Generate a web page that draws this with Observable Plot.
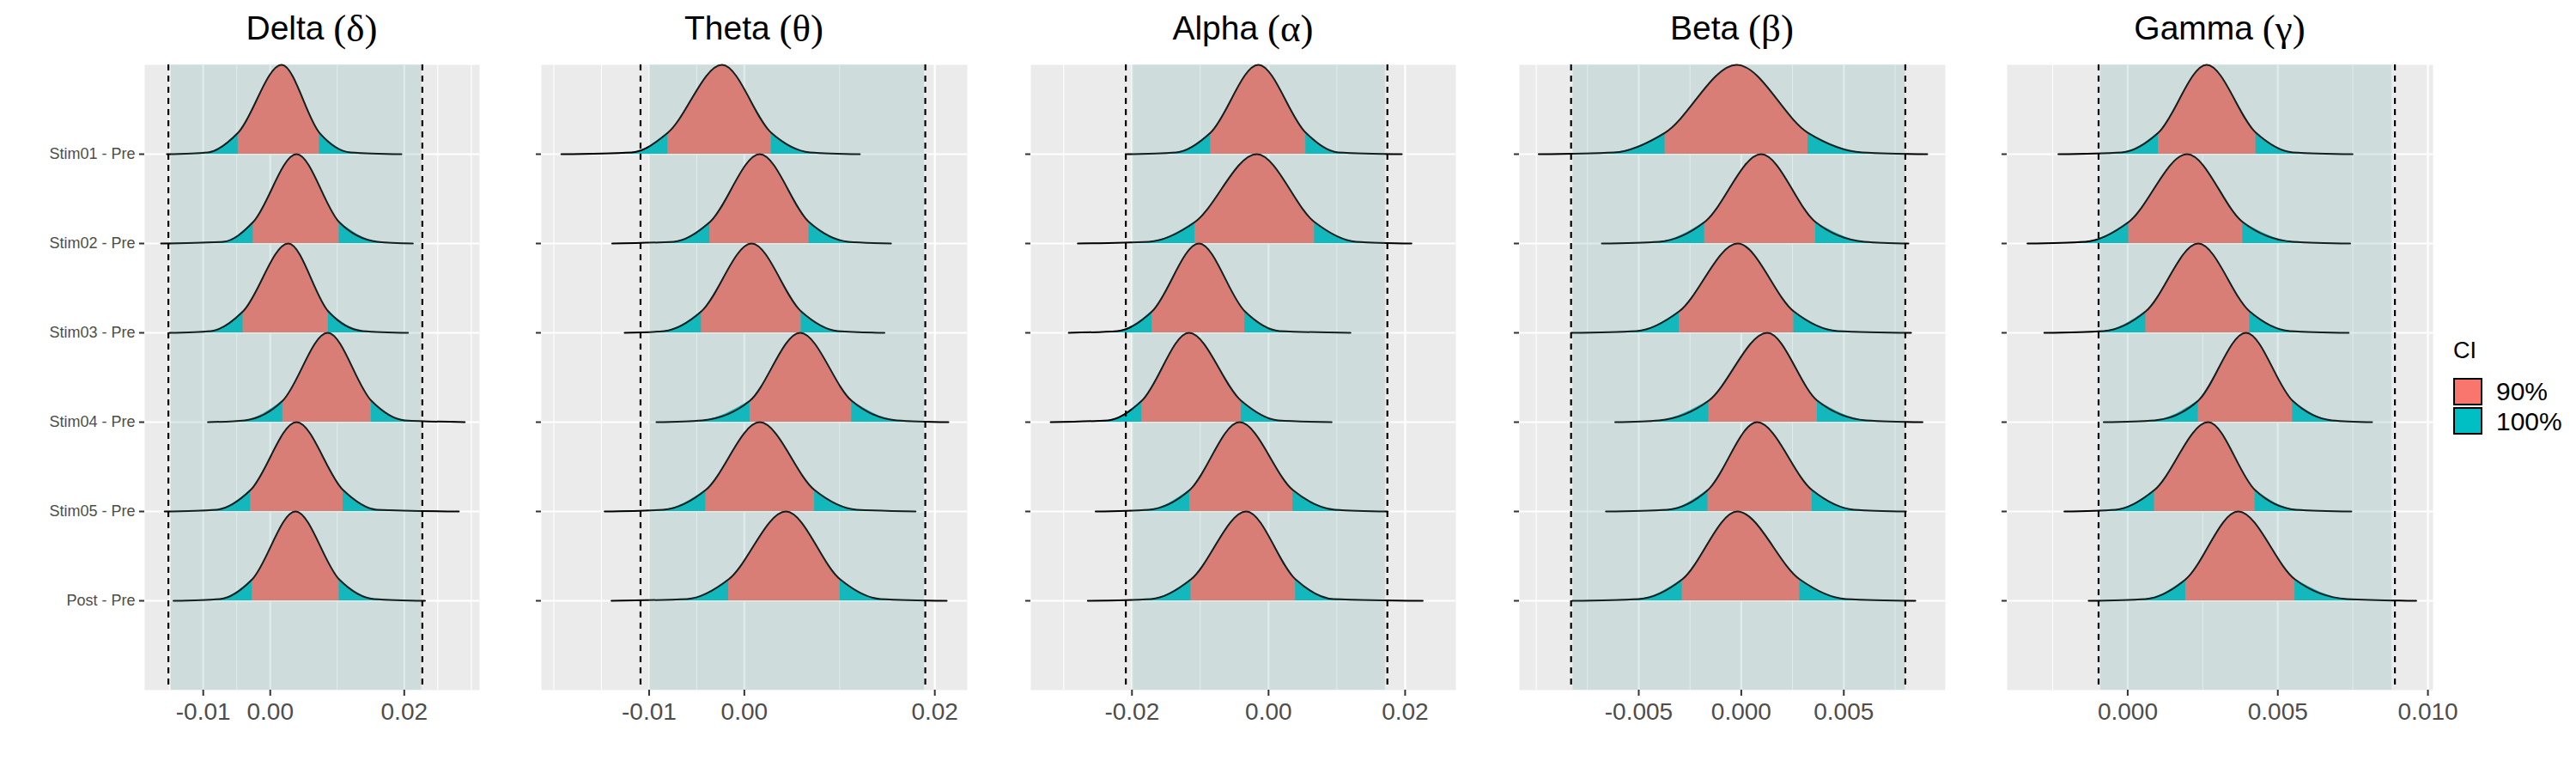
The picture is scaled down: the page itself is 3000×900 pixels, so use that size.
<!DOCTYPE html>
<html>
<head>
<meta charset="utf-8">
<script src="https://cdn.jsdelivr.net/npm/d3@7"></script>
<script src="https://cdn.jsdelivr.net/npm/@observablehq/plot@0.6"></script>
<style>
  body { margin: 0; background: #fff; }
  #chart { position: relative; width: 3000px; height: 900px; overflow: hidden; background: #fff;
           font-family: "Liberation Sans", Arial, sans-serif; }
  .band-title { position: absolute; top: 12px; font-size: 39px; line-height: 39px; color: #000;
                white-space: nowrap; transform: translateX(-50%); }
  .band-title .sym { font-family: "Liberation Serif", "DejaVu Serif", serif; font-size: 45px;
                     position: relative; top: 2px; }
  .legend-title { position: absolute; left: 2857px; top: 395px; font-size: 27px; line-height: 27px; color: #000; }
  .legend-key { position: absolute; left: 2857px; width: 34px; height: 32px; box-sizing: border-box; border: 2px solid #000; }
  .legend-label { position: absolute; left: 2907px; font-size: 30px; line-height: 30px; color: #000; }
</style>
</head>
<body>
<div id="chart"></div>
<script>
// Contrasts, top row first
const contrasts = ["Stim01 - Pre", "Stim02 - Pre", "Stim03 - Pre", "Stim04 - Pre", "Stim05 - Pre", "Post - Pre"];

// Credible-interval classes and their fills
const ciLevels = ["90%", "100%"];
const ciFill = ["#F8766D", "#00BFC4"];

const bandNames = ["Delta", "Theta", "Alpha", "Beta", "Gamma"];
const bandSymbols = ["δ", "θ", "α", "β", "γ"];

// Relative ridge height at each profile point:
// [range start, tail, lower 90% bound, mode, upper 90% bound, tail, range end]
const profileHeights = [0, 0.02, 0.24, 1, 0.24, 0.02, 0];

// Posterior difference profiles (x positions of the profile points), one row per contrast
const deltaProfiles = [
  [-0.01542, -0.0093, -0.0048, 0.0017, 0.00734, 0.0120, 0.01958],
  [-0.0163, -0.0070, -0.00255, 0.00392, 0.01028, 0.0160, 0.02129],
  [-0.01503, -0.0088, -0.00406, 0.00269, 0.00866, 0.0138, 0.02056],
  [-0.0093, -0.0038, 0.00186, 0.00857, 0.01508, 0.0201, 0.02903],
  [-0.01576, -0.0080, -0.00294, 0.00392, 0.01087, 0.0159, 0.02815],
  [-0.01444, -0.0075, -0.00269, 0.00377, 0.01028, 0.0155, 0.0231]
];
const thetaProfiles = [
  [-0.01922, -0.0118, -0.00803, -0.00234, 0.00282, 0.0069, 0.01213],
  [-0.01388, -0.0074, -0.00362, 0.00162, 0.00679, 0.0109, 0.0154],
  [-0.01257, -0.0084, -0.00451, 0.00076, 0.00596, 0.0098, 0.01471],
  [-0.00923, -0.0044, 0.00059, 0.00586, 0.01126, 0.0160, 0.02143],
  [-0.01467, -0.0085, -0.00406, 0.00162, 0.00737, 0.0118, 0.01798],
  [-0.01395, -0.0060, -0.00165, 0.00437, 0.01006, 0.0143, 0.02125]
];
const alphaProfiles = [
  [-0.02094, -0.0135, -0.0085, -0.0015, 0.00545, 0.0102, 0.01952],
  [-0.02793, -0.0175, -0.01079, -0.00173, 0.00673, 0.0128, 0.02093],
  [-0.02926, -0.0221, -0.01705, -0.01019, -0.00347, 0.0016, 0.0120],
  [-0.03191, -0.0235, -0.01855, -0.01165, -0.00402, 0.0014, 0.00924],
  [-0.02532, -0.0175, -0.01155, -0.00424, 0.00356, 0.0097, 0.01742],
  [-0.02647, -0.0172, -0.01136, -0.00327, 0.00395, 0.0095, 0.02258]
];
const betaProfiles = [
  [-0.00988, -0.0062, -0.00372, -0.00022, 0.00325, 0.0059, 0.00907],
  [-0.0068, -0.0040, -0.00179, 0.00097, 0.00362, 0.0060, 0.00815],
  [-0.00829, -0.0051, -0.00303, -0.00017, 0.00256, 0.0047, 0.00828],
  [-0.00615, -0.0040, -0.00159, 0.00127, 0.00371, 0.0061, 0.00884],
  [-0.0066, -0.0036, -0.00163, 0.00077, 0.00345, 0.0055, 0.00803],
  [-0.00824, -0.0050, -0.00288, -0.00019, 0.00285, 0.0051, 0.00849]
];
const gammaProfiles = [
  [-0.00231, -0.0002, 0.00102, 0.00263, 0.00427, 0.0055, 0.00749],
  [-0.00334, -0.0014, 0.00003, 0.00198, 0.00383, 0.0055, 0.00741],
  [-0.00278, -0.0008, 0.0006, 0.00235, 0.00406, 0.0054, 0.00736],
  [-0.0008, 0.0009, 0.00235, 0.00394, 0.00549, 0.0068, 0.00814],
  [-0.00211, -0.0004, 0.00089, 0.00268, 0.00424, 0.0056, 0.00745],
  [-0.0013, 0.0006, 0.00193, 0.00368, 0.00557, 0.0073, 0.00961]
];

// Region of practical equivalence (shaded) and its dashed limits
const deltaRope = [-0.0148, 0.0226],  deltaLimits = [-0.0152, 0.0227];
const thetaRope = [-0.0100, 0.0189],  thetaLimits = [-0.0109, 0.0190];
const alphaRope = [-0.0200, 0.0171],  alphaLimits = [-0.0209, 0.0174];
const betaRope  = [-0.0082, 0.0080],  betaLimits  = [-0.0083, 0.0080];
const gammaRope = [-0.0009, 0.0088],  gammaLimits = [-0.00097, 0.0089];

// Axis breaks and labels
const deltaTicks = [-0.01, 0, 0.02],    deltaTickLabels = ["-0.01", "0.00", "0.02"];
const thetaTicks = [-0.01, 0, 0.02],    thetaTickLabels = ["-0.01", "0.00", "0.02"];
const alphaTicks = [-0.02, 0, 0.02],    alphaTickLabels = ["-0.02", "0.00", "0.02"];
const betaTicks  = [-0.005, 0, 0.005],  betaTickLabels  = ["-0.005", "0.000", "0.005"];
const gammaTicks = [0, 0.005, 0.01],    gammaTickLabels = ["0.000", "0.005", "0.010"];

const deltaMinor = [-0.015, -0.005, 0.01, 0.025, 0.03];
const thetaMinor = [-0.02, -0.015, -0.005, 0.01];
const alphaMinor = [-0.03, -0.01, 0.01];
const betaMinor  = [-0.01, -0.0075, -0.0025, 0.0025, 0.0075];
const gammaMinor = [-0.0025, 0.0025, 0.0075];

const bands = [
  {profiles: deltaProfiles, rope: deltaRope, limits: deltaLimits, ticks: deltaTicks, labels: deltaTickLabels, minor: deltaMinor},
  {profiles: thetaProfiles, rope: thetaRope, limits: thetaLimits, ticks: thetaTicks, labels: thetaTickLabels, minor: thetaMinor},
  {profiles: alphaProfiles, rope: alphaRope, limits: alphaLimits, ticks: alphaTicks, labels: alphaTickLabels, minor: alphaMinor},
  {profiles: betaProfiles,  rope: betaRope,  limits: betaLimits,  ticks: betaTicks,  labels: betaTickLabels,  minor: betaMinor},
  {profiles: gammaProfiles, rope: gammaRope, limits: gammaLimits, ticks: gammaTicks, labels: gammaTickLabels, minor: gammaMinor}
];

// Panel frames (page pixels) and x domains
const layout = [
  {frame: [168, 558],   domain: [-0.01874, 0.03124]},
  {frame: [630, 1126],  domain: [-0.02131, 0.02341]},
  {frame: [1200, 1695], domain: [-0.03481, 0.02743]},
  {frame: [1769, 2265], domain: [-0.01082, 0.00995]},
  {frame: [2337, 2833], domain: [-0.004016, 0.01017]}
];

const chart = document.getElementById("chart");
const nRows = contrasts.length;
const rowsY = contrasts.map((label, j) => ({label, y: nRows - j}));

bands.forEach((band, i) => {
  const [fl, fr] = layout[i].frame;
  const domain = layout[i].domain;
  const mL = i === 0 ? fl : 24;
  const mR = 24;
  const dataPerPx = (domain[1] - domain[0]) / (fr - fl);

  const pts = [];
  band.profiles.forEach((prof, j) => {
    prof.forEach((x, k) => pts.push({ridge: j, k, x, base: nRows - j, top: nRows - j + profileHeights[k]}));
  });
  const tails = pts
    .filter(d => d.k <= 2 || d.k >= 4)
    .map(d => ({...d, side: d.ridge + (d.k <= 2 ? "L" : "R")}));

  const marks = [
    Plot.frame({fill: "#EBEBEB", stroke: null}),
    Plot.ruleX(band.minor, {stroke: "#fff", strokeWidth: 1.1}),
    Plot.ruleX(band.ticks, {stroke: "#fff", strokeWidth: 2.2}),
    Plot.ruleY(rowsY, {y: "y", stroke: "#fff", strokeWidth: 2.2}),
    Plot.areaY(pts, {x: "x", y1: "base", y2: "top", z: "ridge", fill: ciFill[0], curve: "monotone-x"}),
    Plot.areaY(tails, {x: "x", y1: "base", y2: "top", z: "side", fill: ciFill[1], curve: "monotone-x"}),
    Plot.line(pts, {x: "x", y: "top", z: "ridge", stroke: "#000", strokeWidth: 2, curve: "monotone-x"}),
    Plot.rect([band.rope], {x1: d => d[0], x2: d => d[1], y1: 0, y2: 7, fill: "#5F9EA0", fillOpacity: 0.2}),
    Plot.ruleX(band.limits, {stroke: "#000", strokeWidth: 2.2, strokeDasharray: "7,6"}),
    Plot.ruleX(band.ticks, {y1: 0, y2: -7 / 104, stroke: "#333", strokeWidth: 2}),
    Plot.text(band.ticks, {x: d => d, text: (d, idx) => band.labels[idx], frameAnchor: "bottom",
      lineAnchor: "top", dy: 15, fontSize: 28, fill: "#4D4D4D"}),
    Plot.ruleY(rowsY, {y: "y", x1: domain[0] - 6 * dataPerPx, x2: domain[0], stroke: "#333", strokeWidth: 2})
  ];
  if (i === 0) {
    marks.push(Plot.text(rowsY, {y: "y", text: "label", frameAnchor: "left", textAnchor: "end",
      dx: -11, fontSize: 18, fill: "#4D4D4D"}));
  }

  const svg = Plot.plot({
    width: (fr - fl) + mL + mR,
    height: 900,
    marginLeft: mL, marginRight: mR, marginTop: 75, marginBottom: 97,
    x: {domain, axis: null},
    y: {domain: [0, 7], axis: null},
    style: {background: "transparent", fontFamily: "'Liberation Sans', Arial, sans-serif", overflow: "visible"},
    marks
  });
  svg.style.position = "absolute";
  svg.style.left = (fl - mL) + "px";
  svg.style.top = "0px";
  svg.style.maxWidth = "none";
  chart.appendChild(svg);

  const title = document.createElement("div");
  title.className = "band-title";
  title.style.left = ((fl + fr) / 2) + "px";
  title.innerHTML = `${bandNames[i]} <span class="sym">(${bandSymbols[i]})</span>`;
  chart.appendChild(title);
});

// Legend
const lt = document.createElement("div");
lt.className = "legend-title";
lt.textContent = "CI";
chart.appendChild(lt);
ciLevels.forEach((lvl, i) => {
  const key = document.createElement("div");
  key.className = "legend-key";
  key.style.top = (440 + i * 34) + "px";
  key.style.background = ciFill[i];
  chart.appendChild(key);
  const lab = document.createElement("div");
  lab.className = "legend-label";
  lab.style.top = (441 + i * 35) + "px";
  lab.textContent = lvl;
  chart.appendChild(lab);
});
</script>
</body>
</html>
